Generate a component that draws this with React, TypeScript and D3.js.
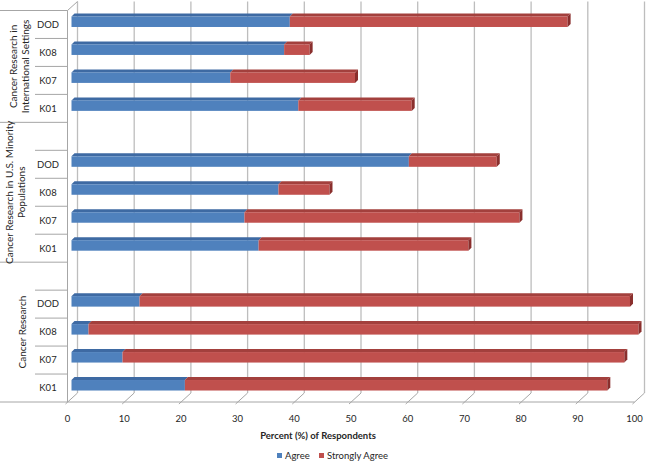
import React from "react";
import * as d3 from "d3";

const groupNames = [
  "Cancer Research in International Settings",
  "Cancer Research in U.S. Minority Populations",
  "Cancer Research",
];
const groupLabelLines = [
  ["Cancer Research in", "International Settings"],
  ["Cancer Research in U.S. Minority", "Populations"],
  ["Cancer Research"],
];
const categories = ["DOD", "K08", "K07", "K01"];
const agreeIntl = [38.5, 37.5, 28, 40];
const strongIntl = [49, 4.5, 22, 20];
const agreeMinority = [59.5, 36.5, 30.5, 33];
const strongMinority = [15.5, 9, 48.5, 37];
const agreeCancer = [12, 3, 9, 20];
const strongCancer = [86.5, 97, 88.5, 74.5];
const xTicks = [0, 10, 20, 30, 40, 50, 60, 70, 80, 90, 100];
const seriesNames = ["Agree", "Strongly Agree"];

const agreeByGroup = [agreeIntl, agreeMinority, agreeCancer];
const strongByGroup = [strongIntl, strongMinority, strongCancer];

type Row = { key: string; group: number; cat?: string; a?: number; s?: number };
const rows: Row[] = [];
groupNames.forEach((g, gi) => {
  if (gi > 0) rows.push({ key: `blank${gi}`, group: gi });
  categories.forEach((c, ci) => {
    rows.push({ key: `${gi}-${c}`, group: gi, cat: c, a: agreeByGroup[gi][ci], s: strongByGroup[gi][ci] });
  });
});

const BLUE = "#4f81bd";
const BLUE_TOP = "#3e6aa3";
const RED = "#c0504d";
const RED_TOP = "#a3403d";
const RED_SIDE = "#8a2f2d";
const FONT = "Lato, 'Open Sans', sans-serif";

export default function App() {
  const W = 650, H = 461;
  const x = d3.scaleLinear().domain([0, 100]).range([67.5, 634.5]);
  const y = d3.scaleBand<string>().domain(rows.map(r => r.key)).range([10.5, 402]).padding(0);
  const DX = 10, DY = -9;
  const bw = y.bandwidth();
  const depth = 3;
  const barOff = 4;

  const groupRanges = groupNames.map((_, gi) => {
    const rs = rows.filter(r => r.group === gi);
    const top = y(rs[0].key)!;
    const bottom = y(rs[rs.length - 1].key)! + bw;
    return [top, bottom];
  });

  return (
    <svg width={W} height={H} style={{ display: "block", position: "absolute", left: 0, top: 0, background: "#fff" }}>
      {/* back gridlines */}
      {xTicks.map(t => (
        <line key={"g" + t} x1={x(t) + DX} x2={x(t) + DX} y1={10.5 + DY} y2={402 + DY} stroke="#bdbdbd" strokeWidth={1.3} />
      ))}
      {/* floor diagonals */}
      {xTicks.map(t => (
        <line key={"f" + t} x1={x(t) - 2} y1={404} x2={x(t) + DX} y2={402 + DY} stroke="#a6a6a6" strokeWidth={1} />
      ))}
      {/* left wall */}
      <line x1={x(0)} x2={x(0)} y1={10.5} y2={402} stroke="#a6a6a6" strokeWidth={1} />
      <line x1={x(0)} y1={10.5} x2={x(0) + DX} y2={10.5 + DY} stroke="#a6a6a6" strokeWidth={1} />
      {/* floor front line + group box lines */}
      <line x1={0} x2={x(100)} y1={402} y2={402} stroke="#a6a6a6" strokeWidth={1} />
      {groupRanges.map(([t], gi) => (
        <line key={"gl" + gi} x1={0} x2={x(0)} y1={t} y2={t} stroke="#a6a6a6" strokeWidth={1} />
      ))}
      {rows.map((r, i) => i === 0 || groupRanges.some(([t]) => Math.abs(t - y(r.key)!) < 0.1) ? null : (
        <line key={"tk" + r.key} x1={35} x2={x(0)} y1={y(r.key)!} y2={y(r.key)!} stroke="#a6a6a6" strokeWidth={1} />
      ))}
      {/* bars */}
      {rows.filter(r => r.cat).map(r => {
        const c = y(r.key)! + bw / 2;
        const top = c - 8, bot = c + 2.5;
        const x0 = x(0) + barOff;
        const xa = x(r.a!) + barOff;
        const xs = x(r.a! + r.s!) + barOff;
        return (
          <g key={"b" + r.key}>
            <polygon points={`${x0},${top} ${x0 + depth},${top - depth} ${xa + depth},${top - depth} ${xa},${top}`} fill={BLUE_TOP} />
            <polygon points={`${xa},${top} ${xa + depth},${top - depth} ${xs + depth},${top - depth} ${xs},${top}`} fill={RED_TOP} />
            <rect x={x0} y={top} width={xa - x0} height={bot - top} fill={BLUE} />
            <rect x={xa} y={top} width={xs - xa} height={bot - top} fill={RED} />
            <polygon points={`${xs},${top} ${xs + depth},${top - depth} ${xs + depth},${bot - depth} ${xs},${bot}`} fill={RED_SIDE} />
          </g>
        );
      })}
      {/* category labels */}
      {rows.filter(r => r.cat).map(r => (
        <text key={"cl" + r.key} x={48} y={y(r.key)! + bw / 2} dy="0.35em" textAnchor="middle" fontFamily={FONT} fontSize={9.5} fill="#262626">{r.cat}</text>
      ))}
      {/* group labels */}
      {groupLabelLines.map((lines, gi) => {
        const [t, b] = groupRanges[gi];
        const cy = (t + b) / 2;
        const cx = lines.length === 2 ? (gi === 0 ? 19 : 15.5) : 22;
        return (
          <text key={"gt" + gi} transform={`translate(${cx},${cy}) rotate(-90)`} textAnchor="middle" fontFamily={FONT} fontSize={10} fill="#262626">
            {lines.map((l, li) => (
              <tspan key={li} x={0} dy={li === 0 ? (lines.length === 2 ? "-0.25em" : "0.35em") : "1.2em"}>{l}</tspan>
            ))}
          </text>
        );
      })}
      {/* x tick labels */}
      {xTicks.map(t => (
        <text key={"xl" + t} x={x(t)} y={419} dy="0.35em" textAnchor="middle" fontFamily={FONT} fontSize={9.5} fill="#262626">{t}</text>
      ))}
      <text x={318} y={436} dy="0.35em" textAnchor="middle" fontFamily={FONT} fontSize={9.5} fontWeight="bold" fill="#262626">Percent (%) of Respondents</text>
      {/* legend */}
      <g fontFamily={FONT} fontSize={9.5} fill="#262626">
        <rect x={277} y={453} width={5} height={5} fill={BLUE} />
        <text x={285} y={455.5} dy="0.35em">{seriesNames[0]}</text>
        <rect x={319} y={453} width={5} height={5} fill={RED} />
        <text x={327} y={455.5} dy="0.35em">{seriesNames[1]}</text>
      </g>
    </svg>
  );
}
